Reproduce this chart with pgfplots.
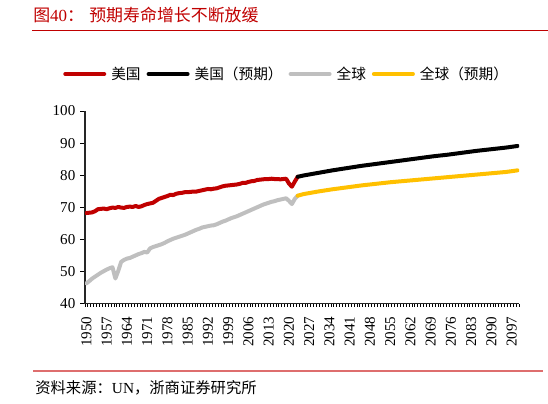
\documentclass[border=0pt]{standalone}
\usepackage{fontspec}
\setmainfont{Liberation Serif}
\newfontfamily\cjk{Noto Sans CJK SC}
\usepackage{pgfplots}
\pgfplotsset{compat=1.18}
\definecolor{usred}{RGB}{192,0,0}
\definecolor{wgray}{RGB}{191,191,191}
\definecolor{wgold}{RGB}{255,192,0}
\definecolor{rulered}{RGB}{222,110,110}

\begin{document}
\begin{tikzpicture}
\useasboundingbox (0pt,0pt) rectangle (411pt,302.25pt);
% title and rules
\node[anchor=west, inner sep=0, text=usred, font=\fontsize{12.7}{14}\selectfont] at (24.75pt,291pt) {{\cjk 图}40{\cjk ：}};
\node[anchor=west, inner sep=0, text=usred, font=\cjk\fontsize{12.7}{14}\selectfont] at (66.75pt,291pt) {预期寿命增长不断放缓};
\draw[usred, line width=0.75pt] (24pt,279pt) -- (411pt,279pt);
\draw[rulered, line width=0.9pt] (24.75pt,24pt) -- (407.25pt,24pt);
\node[anchor=west, inner sep=0, font=\fontsize{11.5}{13}\selectfont] at (26.25pt,11.25pt) {{\cjk 资料来源：}UN{\cjk ，浙商证券研究所}};

\begin{axis}[
  at={(63.75pt,74.6pt)}, anchor=south west, scale only axis,
  width=325.5pt, height=144.4pt,
  xmin=1949.5, xmax=2099.5, ymin=40, ymax=100,
  axis x line*=bottom, axis y line*=left,
  axis line style={-, black!85, line width=0.8pt},
  xtick={1950,1957,...,2097},
  minor xtick={1949.5,1950.5,...,2099.5},
  ytick={40,50,...,100},
  major x tick style={draw=none},
  tick style={black, line width=0.6pt},
  tick align=outside,
  major tick length=3.75pt, minor tick length=2.25pt,
  tick label style={font=\fontsize{11.3}{13}\selectfont},
  /pgf/number format/assume math mode=true,
  /pgf/number format/1000 sep={},
  xticklabel style={rotate=90, anchor=east},
  xticklabel shift=2.6pt,
  yticklabel style={anchor=east},
  legend columns=-1,
  legend style={at={(-0.0507,1.192)}, anchor=west, draw=none, fill=none,
    inner sep=0pt, nodes={inner sep=0pt}, font=\cjk\fontsize{11}{13}\selectfont,
    /tikz/every odd column/.append style={column sep=3.75pt},
    /tikz/every even column/.append style={column sep=4.5pt}},
  legend image code/.code={\draw[#1] (0pt,0pt) -- (29.25pt,0pt);},
  every axis plot/.append style={line width=3pt, line cap=round, line join=round},
]
% United States, estimates
\addplot[usred] coordinates {
 (1950,68.2) (1951,68.3) (1952,68.4) (1953,68.8) (1954,69.4) (1955,69.5) (1956,69.6) (1957,69.4)
 (1958,69.7) (1959,69.9) (1960,69.8) (1961,70.1) (1962,69.9) (1963,69.8) (1964,70.1) (1965,70.2)
 (1966,70.1) (1967,70.4) (1968,70.1) (1969,70.3) (1970,70.7) (1971,71.0) (1972,71.2) (1973,71.4)
 (1974,72.0) (1975,72.6) (1976,72.9) (1977,73.2) (1978,73.5) (1979,73.9) (1980,73.8) (1981,74.2)
 (1982,74.4) (1983,74.5) (1984,74.7) (1985,74.7) (1986,74.8) (1987,74.9) (1988,74.9) (1989,75.1)
 (1990,75.3) (1991,75.5) (1992,75.7) (1993,75.6) (1994,75.8) (1995,75.9) (1996,76.2) (1997,76.5)
 (1998,76.7) (1999,76.8) (2000,76.9) (2001,77.0) (2002,77.1) (2003,77.3) (2004,77.6) (2005,77.6)
 (2006,77.9) (2007,78.1) (2008,78.2) (2009,78.5) (2010,78.6) (2011,78.7) (2012,78.8) (2013,78.8)
 (2014,78.9) (2015,78.8) (2016,78.8) (2017,78.7) (2018,78.8) (2019,78.9) (2020,77.4) (2021,76.4)
 (2022,78.0) (2023,79.5)
};
\addlegendentry{美国}
% United States, projection
\addplot[black] coordinates {
 (2023,79.5) (2025,79.9) (2030,80.7) (2035,81.5) (2040,82.2) (2045,82.9) (2050,83.5) (2055,84.1)
 (2060,84.7) (2065,85.3) (2070,85.9) (2075,86.4) (2080,87.0) (2085,87.6) (2090,88.1) (2095,88.6)
 (2099,89.1)
};
\addlegendentry{美国（预期）}
% World, estimates
\addplot[wgray] coordinates {
 (1950,46.3) (1951,47.0) (1952,47.8) (1953,48.4) (1954,49.0) (1955,49.6) (1956,50.1) (1957,50.6)
 (1958,51.0) (1959,51.3) (1960,47.8) (1961,50.2) (1962,53.0) (1963,53.6) (1964,54.0) (1965,54.2)
 (1966,54.6) (1967,55.0) (1968,55.4) (1969,55.7) (1970,56.1) (1971,55.9) (1972,57.2) (1973,57.6)
 (1974,57.9) (1975,58.2) (1976,58.5) (1977,58.9) (1978,59.4) (1979,59.8) (1980,60.2) (1981,60.5)
 (1982,60.8) (1983,61.1) (1984,61.4) (1985,61.8) (1986,62.2) (1987,62.6) (1988,63.0) (1989,63.3)
 (1990,63.7) (1991,63.9) (1992,64.1) (1993,64.3) (1994,64.4) (1995,64.7) (1996,65.1) (1997,65.5)
 (1998,65.8) (1999,66.2) (2000,66.6) (2001,66.9) (2002,67.2) (2003,67.6) (2004,68.0) (2005,68.4)
 (2006,68.8) (2007,69.2) (2008,69.6) (2009,70.0) (2010,70.4) (2011,70.8) (2012,71.1) (2013,71.4)
 (2014,71.7) (2015,71.9) (2016,72.2) (2017,72.4) (2018,72.6) (2019,72.8) (2020,72.0) (2021,71.0)
 (2022,72.6) (2023,73.6)
};
\addlegendentry{全球}
% World, projection
\addplot[wgold] coordinates {
 (2023,73.6) (2025,74.1) (2030,74.9) (2035,75.6) (2040,76.2) (2045,76.8) (2050,77.3) (2055,77.8)
 (2060,78.2) (2065,78.6) (2070,79.0) (2075,79.4) (2080,79.8) (2085,80.2) (2090,80.6) (2095,81.0)
 (2099,81.5)
};
\addlegendentry{全球（预期）}
\end{axis}
\end{tikzpicture}
\end{document}
